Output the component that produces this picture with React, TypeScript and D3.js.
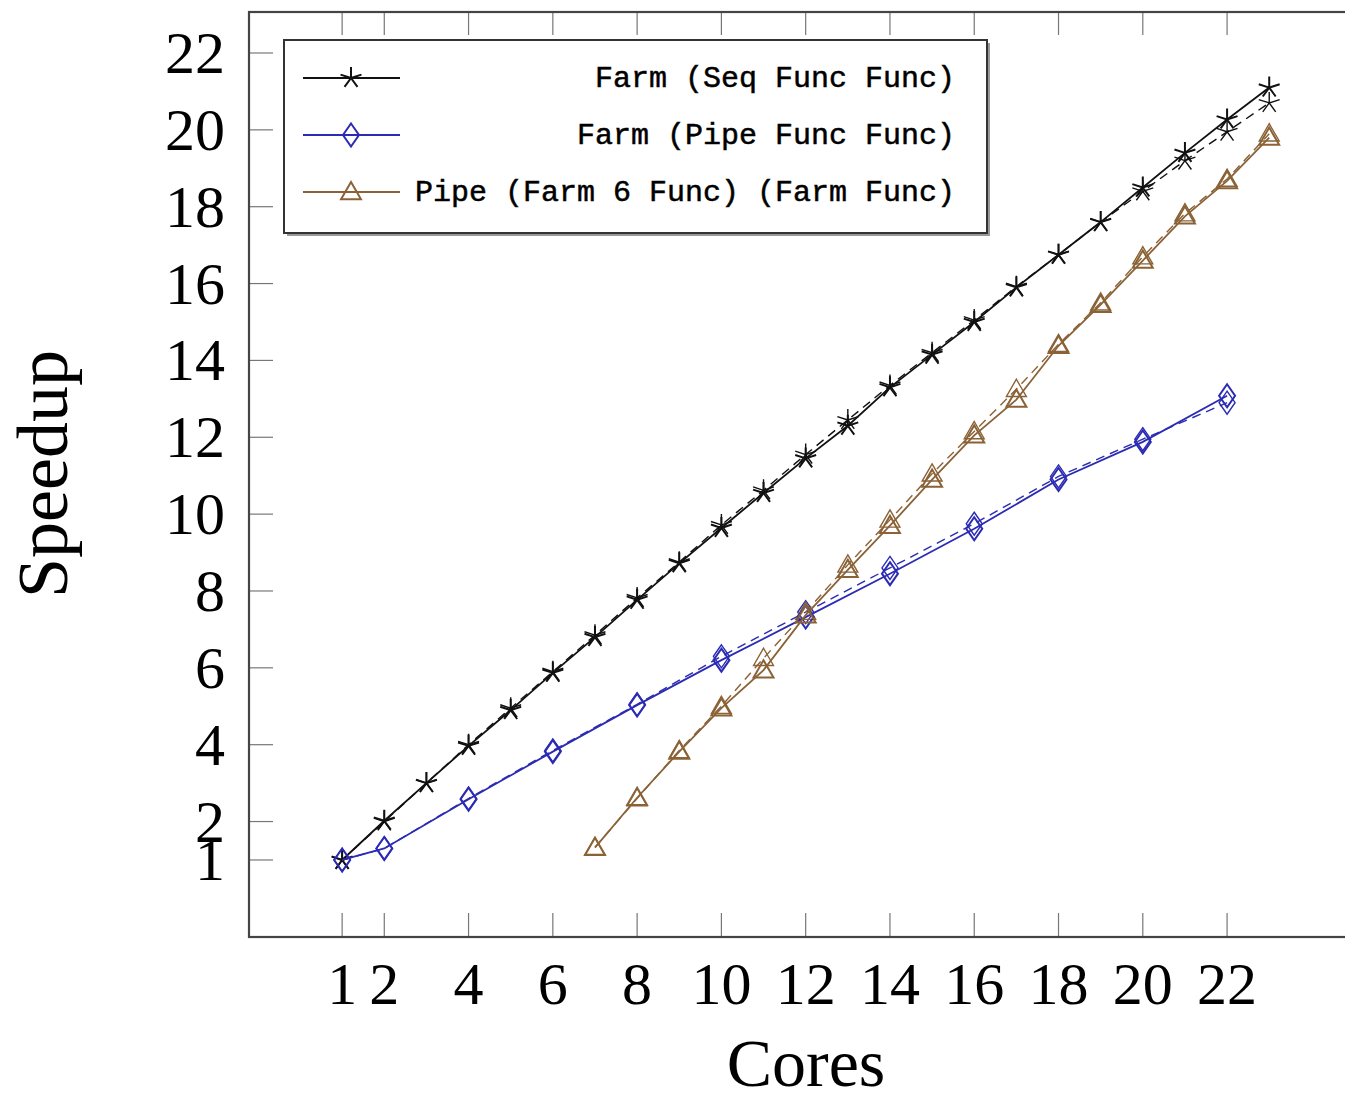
import React from "react";
import * as d3 from "d3";

const seqX = [1,2,3,4,5,6,7,8,9,10,11,12,13,14,15,16,17,18,19,20,21,22,23];
const seqSolid = [1.0,2.02,3.0,3.97,4.9,5.87,6.8,7.77,8.72,9.64,10.55,11.45,12.3,13.3,14.15,15.0,15.9,16.75,17.6,18.5,19.4,20.27,21.1];
const seqDashed = [1.0,2.0,3.0,4.0,4.95,5.9,6.85,7.82,8.75,9.72,10.62,11.55,12.45,13.35,14.2,15.05,15.92,16.75,17.6,18.4,19.2,19.95,20.7];

const pipeX = [1,2,4,6,8,10,12,14,16,18,20,22];
const pipeSolid = [1.0,1.3,2.58,3.82,5.03,6.2,7.32,8.45,9.62,10.9,11.88,13.08];
const pipeDashed = [1.0,1.3,2.6,3.85,5.05,6.3,7.45,8.6,9.75,10.98,11.95,12.9];

const farm6X = [7,8,9,10,11,12,13,14,15,16,17,18,19,20,21,22,23];
const farm6Solid = [1.32,2.62,3.82,4.95,5.94,7.37,8.55,9.7,10.9,12.05,12.98,14.38,15.45,16.6,17.75,18.67,19.8];
const farm6Dashed = [1.33,2.6,3.85,5.0,6.25,7.45,8.68,9.85,11.05,12.15,13.25,14.42,15.5,16.7,17.82,18.72,19.9];

const xTicks = [1,2,4,6,8,10,12,14,16,18,20,22];
const yTicks = [1,2,4,6,8,10,12,14,16,18,20,22];

const legendLabels = [
  "Farm (Seq Func Func)",
  "Farm (Pipe Func Func)",
  "Pipe (Farm 6 Func) (Farm Func)",
];

const BLACK = "#111";
const BLUE = "#2b2bb3";
const BROWN = "#8a6236";

const W = 1345, H = 1099;
const left = 249, top = 12, bottom = 937, right = 1362;

const x = d3.scaleLinear().domain([0, 23]).range([300, 300 + 23 * 42.14]);
const y = d3.scaleLinear().domain([0, 22]).range([898.4, 53]);

function starPath(r: number) {
  let p = "";
  for (let i = 0; i < 5; i++) {
    const a = -Math.PI / 2 + (i * 2 * Math.PI) / 5;
    p += `M0,0L${(r * Math.cos(a)).toFixed(2)},${(r * Math.sin(a)).toFixed(2)}`;
  }
  return p;
}
function diamondPath(w: number, h: number) {
  return `M0,${-h}L${w},0L0,${h}L${-w},0Z`;
}
function trianglePath(r: number) {
  const pts = [0, 1, 2].map((i) => {
    const a = -Math.PI / 2 + (i * 2 * Math.PI) / 3;
    return [r * Math.cos(a), r * Math.sin(a) + 1.5];
  });
  return `M${pts.map((p) => p.join(",")).join("L")}Z`;
}

const markers: Record<string, string> = {
  star: starPath(11),
  diamond: diamondPath(8, 11.5),
  triangle: trianglePath(11.5),
};

type Series = { xs: number[]; ys: number[]; color: string; marker: string; dashed: boolean };

const series: Series[] = [
  { xs: seqX, ys: seqDashed, color: BLACK, marker: "star", dashed: true },
  { xs: pipeX, ys: pipeDashed, color: BLUE, marker: "diamond", dashed: true },
  { xs: farm6X, ys: farm6Dashed, color: BROWN, marker: "triangle", dashed: true },
  { xs: seqX, ys: seqSolid, color: BLACK, marker: "star", dashed: false },
  { xs: pipeX, ys: pipeSolid, color: BLUE, marker: "diamond", dashed: false },
  { xs: farm6X, ys: farm6Solid, color: BROWN, marker: "triangle", dashed: false },
];

const legendEntries = [
  { color: BLACK, marker: "star" },
  { color: BLUE, marker: "diamond" },
  { color: BROWN, marker: "triangle" },
];

const line = d3
  .line<[number, number]>()
  .x((d) => x(d[0]))
  .y((d) => y(d[1]));

export default function App() {
  const serif = "'Liberation Serif', 'DejaVu Serif', serif";
  const mono = "'Liberation Mono', 'DejaVu Sans Mono', monospace";
  return (
    <svg
      width={W}
      height={H}
      viewBox={`0 0 ${W} ${H}`}
      style={{ position: "absolute", left: 0, top: 0, background: "#fff" }}
    >
      <rect x={0} y={0} width={W} height={H} fill="#fff" />
      {xTicks.map((t) => (
        <g key={"xt" + t} stroke="#777" strokeWidth={1.2}>
          <line x1={x(t)} x2={x(t)} y1={bottom} y2={bottom - 24} />
          <line x1={x(t)} x2={x(t)} y1={top} y2={top + 23} />
        </g>
      ))}
      {yTicks.map((t) => (
        <g key={"yt" + t} stroke="#777" strokeWidth={1.2}>
          <line x1={left} x2={left + 24} y1={y(t)} y2={y(t)} />
        </g>
      ))}
      <rect
        x={left}
        y={top}
        width={right - left}
        height={bottom - top}
        fill="none"
        stroke="#444"
        strokeWidth={2.2}
      />
      {xTicks.map((t) => (
        <text
          key={"xl" + t}
          x={x(t)}
          y={1004}
          textAnchor="middle"
          fontFamily={serif}
          fontSize={60}
          fill="#000"
        >
          {t}
        </text>
      ))}
      {yTicks.map((t) => (
        <text
          key={"yl" + t}
          x={225}
          y={y(t) + 20}
          textAnchor="end"
          fontFamily={serif}
          fontSize={60}
          fill="#000"
        >
          {t}
        </text>
      ))}
      <text
        x={806}
        y={1086}
        textAnchor="middle"
        fontFamily={serif}
        fontSize={68}
        fill="#000"
      >
        Cores
      </text>
      <text
        transform={`translate(67,474) rotate(-90)`}
        textAnchor="middle"
        fontFamily={serif}
        fontSize={72}
        fill="#000"
      >
        Speedup
      </text>
      {series.map((s, i) => {
        const pts: [number, number][] = s.xs.map((xv, j) => [xv, s.ys[j]]);
        return (
          <g key={"s" + i}>
            <path
              d={line(pts) || ""}
              fill="none"
              stroke={s.color}
              strokeWidth={s.dashed ? 1.4 : 1.8}
              strokeDasharray={s.dashed ? "9 6" : undefined}
            />
            {pts.map((p, j) => (
              <path
                key={j}
                d={markers[s.marker]}
                transform={`translate(${x(p[0])},${y(p[1])})`}
                fill="none"
                stroke={s.color}
                strokeWidth={s.dashed ? 1.4 : 2}
              />
            ))}
          </g>
        );
      })}
      <rect x={287} y={43} width={703} height={193} fill="#999" />
      <rect x={284} y={40} width={703} height={193} fill="#fff" stroke="#333" strokeWidth={2} />
      {legendEntries.map((e, i) => {
        const ly = 78 + i * 57;
        return (
          <g key={"lg" + i}>
            <line x1={303} x2={400} y1={ly} y2={ly} stroke={e.color} strokeWidth={1.8} />
            <path
              d={markers[e.marker]}
              transform={`translate(351,${ly})`}
              fill="none"
              stroke={e.color}
              strokeWidth={2}
            />
            <text
              x={955}
              y={ly + 9}
              textAnchor="end"
              fontFamily={mono}
              fontSize={30}
              fill="#000"
              stroke="#000"
              strokeWidth={0.5}
            >
              {legendLabels[i]}
            </text>
          </g>
        );
      })}
    </svg>
  );
}
